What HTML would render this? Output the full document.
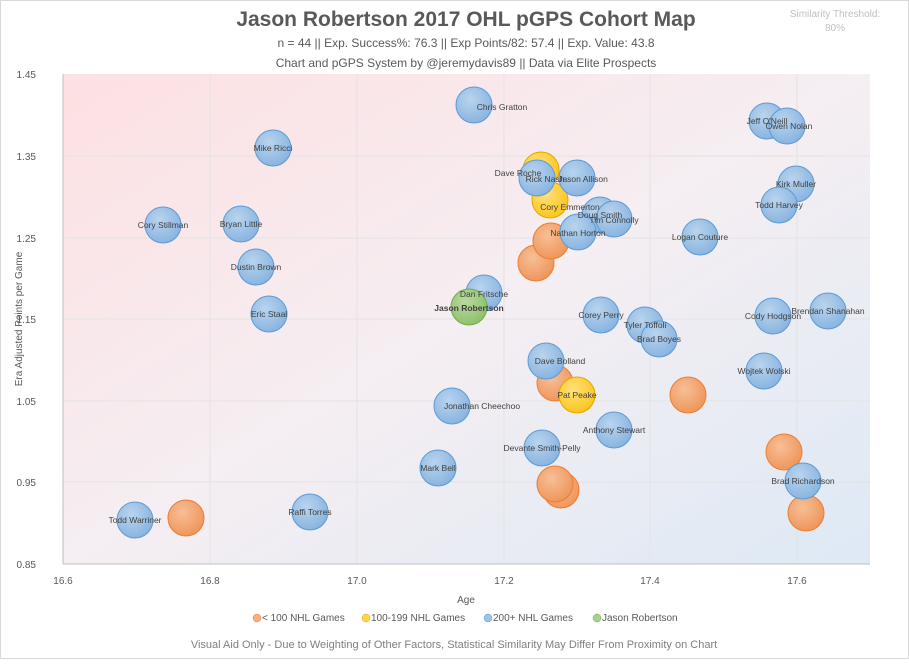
<!DOCTYPE html>
<html><head><meta charset="utf-8"><style>
body{margin:0;background:#fff;}
svg text{font-family:"Liberation Sans",sans-serif;}
</style></head><body>
<svg width="909" height="659" viewBox="0 0 909 659" xmlns="http://www.w3.org/2000/svg">
<defs>
<linearGradient id="bg" x1="0" y1="0" x2="1" y2="1">
<stop offset="0" stop-color="#fde0e2"/><stop offset="0.5" stop-color="#f5eef2"/><stop offset="1" stop-color="#dde9f5"/>
</linearGradient>
<radialGradient id="gb" cx="0.4" cy="0.35" r="0.7"><stop offset="0" stop-color="#b9d4ee"/><stop offset="1" stop-color="#86b2df"/></radialGradient>
<radialGradient id="go" cx="0.4" cy="0.35" r="0.7"><stop offset="0" stop-color="#f7bf96"/><stop offset="1" stop-color="#ee9358"/></radialGradient>
<radialGradient id="gy" cx="0.4" cy="0.35" r="0.7"><stop offset="0" stop-color="#ffe07a"/><stop offset="1" stop-color="#fcc419"/></radialGradient>
<radialGradient id="gg" cx="0.4" cy="0.35" r="0.7"><stop offset="0" stop-color="#b8da9e"/><stop offset="1" stop-color="#8cbf68"/></radialGradient>
</defs>
<rect x="0.5" y="0.5" width="908" height="658" fill="#fff" stroke="#d9d9d9"/>
<rect x="63" y="74" width="807" height="490" fill="url(#bg)"/>
<g stroke="#e3e3e3" stroke-width="1">
<line x1="210" y1="74" x2="210" y2="564"/><line x1="357" y1="74" x2="357" y2="564"/><line x1="504" y1="74" x2="504" y2="564"/><line x1="650" y1="74" x2="650" y2="564"/><line x1="797" y1="74" x2="797" y2="564"/>
<line x1="63" y1="156" x2="870" y2="156"/><line x1="63" y1="238" x2="870" y2="238"/><line x1="63" y1="319" x2="870" y2="319"/><line x1="63" y1="401" x2="870" y2="401"/><line x1="63" y1="482" x2="870" y2="482"/>
</g>
<line x1="63" y1="74" x2="63" y2="564" stroke="#bfbfbf"/><line x1="63" y1="564" x2="870" y2="564" stroke="#bfbfbf"/>
<g font-size="10" fill="#595959" text-anchor="end">
<text x="36" y="78">1.45</text><text x="36" y="160">1.35</text><text x="36" y="242">1.25</text><text x="36" y="323">1.15</text><text x="36" y="405">1.05</text><text x="36" y="486">0.95</text><text x="36" y="568">0.85</text>
</g>
<g font-size="10" fill="#595959" text-anchor="middle">
<text x="63" y="584">16.6</text><text x="210" y="584">16.8</text><text x="357" y="584">17.0</text><text x="504" y="584">17.2</text><text x="650" y="584">17.4</text><text x="797" y="584">17.6</text>
<text x="466" y="603">Age</text>
</g>
<text transform="translate(22,319) rotate(-90)" font-size="10" fill="#595959" text-anchor="middle">Era Adjusted Points per Game</text>
<text x="466" y="26" font-size="21" font-weight="bold" fill="#595959" text-anchor="middle">Jason Robertson 2017 OHL pGPS Cohort Map</text>
<text x="466" y="47" font-size="12" fill="#595959" text-anchor="middle">n = 44 || Exp. Success%: 76.3 || Exp Points/82: 57.4 || Exp. Value: 43.8</text>
<text x="466" y="67" font-size="12" fill="#595959" text-anchor="middle">Chart and pGPS System by @jeremydavis89 || Data via Elite Prospects</text>
<text x="835" y="17" font-size="10" fill="#bfbfbf" text-anchor="middle">Similarity Threshold:</text>
<text x="835" y="31" font-size="10" fill="#bfbfbf" text-anchor="middle">80%</text>
<g stroke-width="1">
<g fill="url(#go)" stroke="#ed7d31">
<circle cx="186" cy="518" r="18"/><circle cx="536" cy="263" r="18"/><circle cx="551" cy="241" r="18"/><circle cx="555" cy="383" r="18"/><circle cx="688" cy="395" r="18"/><circle cx="784" cy="452" r="18"/><circle cx="806" cy="513" r="18"/><circle cx="561" cy="490" r="18"/><circle cx="555" cy="484" r="18"/>
</g>
<g fill="url(#gy)" stroke="#e0a800">
<circle cx="541" cy="170" r="18"/><circle cx="550" cy="200" r="18"/><circle cx="577" cy="395" r="18"/>
</g>
<g fill="url(#gb)" stroke="#5b9bd5">
<circle cx="474" cy="105" r="18"/><circle cx="767" cy="121" r="18"/><circle cx="787" cy="126" r="18"/><circle cx="273" cy="148" r="18"/>
<circle cx="537" cy="178" r="18"/><circle cx="577" cy="178" r="18"/><circle cx="796" cy="184" r="18"/><circle cx="779" cy="205" r="18"/>
<circle cx="600" cy="215" r="18"/><circle cx="614" cy="219" r="18"/><circle cx="163" cy="225" r="18"/><circle cx="241" cy="224" r="18"/>
<circle cx="578" cy="232" r="18"/><circle cx="700" cy="237" r="18"/><circle cx="256" cy="267" r="18"/><circle cx="484" cy="293" r="18"/>
<circle cx="269" cy="314" r="18"/><circle cx="601" cy="315" r="18"/><circle cx="645" cy="325" r="18"/><circle cx="659" cy="339" r="18"/>
<circle cx="773" cy="316" r="18"/><circle cx="828" cy="311" r="18"/><circle cx="546" cy="361" r="18"/><circle cx="764" cy="371" r="18"/>
<circle cx="452" cy="406" r="18"/><circle cx="614" cy="430" r="18"/><circle cx="542" cy="448" r="18"/><circle cx="438" cy="468" r="18"/>
<circle cx="803" cy="481" r="18"/><circle cx="135" cy="520" r="18"/><circle cx="310" cy="512" r="18"/>
</g>
<circle cx="469" cy="307" r="18" fill="url(#gg)" stroke="#70ad47"/>
</g>
<g font-size="8.5" fill="#404040" text-anchor="middle">
<text x="502" y="110">Chris Gratton</text><text x="767" y="124">Jeff O'Neill</text><text x="789" y="129">Owen Nolan</text><text x="273" y="151">Mike Ricci</text>
<text x="518" y="176">Dave Roche</text><text x="545" y="182">Rick Nash</text><text x="583" y="182">Jason Allison</text><text x="796" y="187">Kirk Muller</text><text x="779" y="208">Todd Harvey</text>
<text x="570" y="210">Cory Emmerton</text><text x="600" y="218">Doug Smith</text><text x="614" y="223">Tim Connolly</text><text x="163" y="228">Cory Stillman</text><text x="241" y="227">Bryan Little</text>
<text x="578" y="236">Nathan Horton</text><text x="700" y="240">Logan Couture</text><text x="256" y="270">Dustin Brown</text><text x="484" y="297">Dan Fritsche</text>
<text x="469" y="311" font-weight="bold">Jason Robertson</text>
<text x="269" y="317">Eric Staal</text><text x="601" y="318">Corey Perry</text><text x="645" y="328">Tyler Toffoli</text><text x="659" y="342">Brad Boyes</text>
<text x="773" y="319">Cody Hodgson</text><text x="828" y="314">Brendan Shanahan</text><text x="560" y="364">Dave Bolland</text><text x="764" y="374">Wojtek Wolski</text>
<text x="577" y="398">Pat Peake</text><text x="482" y="409">Jonathan Cheechoo</text><text x="614" y="433">Anthony Stewart</text><text x="542" y="451">Devante Smith-Pelly</text><text x="438" y="471">Mark Bell</text>
<text x="803" y="484">Brad Richardson</text><text x="135" y="523">Todd Warriner</text><text x="310" y="515">Raffi Torres</text>
</g>
<g font-size="10" fill="#595959">
<circle cx="257" cy="618" r="4" fill="#f4b183" stroke="#ed7d31" stroke-width="0.5"/><text x="262" y="621">&lt; 100 NHL Games</text>
<circle cx="366" cy="618" r="4" fill="#ffd54f" stroke="#e0a800" stroke-width="0.5"/><text x="371" y="621">100-199 NHL Games</text>
<circle cx="488" cy="618" r="4" fill="#9dc3e6" stroke="#5b9bd5" stroke-width="0.5"/><text x="493" y="621">200+ NHL Games</text>
<circle cx="597" cy="618" r="4" fill="#a9d18e" stroke="#70ad47" stroke-width="0.5"/><text x="602" y="621">Jason Robertson</text>
</g>
<text x="454" y="648" font-size="11" fill="#7f7f7f" text-anchor="middle">Visual Aid Only - Due to Weighting of Other Factors, Statistical Similarity May Differ From Proximity on Chart</text>
</svg>
</body></html>
